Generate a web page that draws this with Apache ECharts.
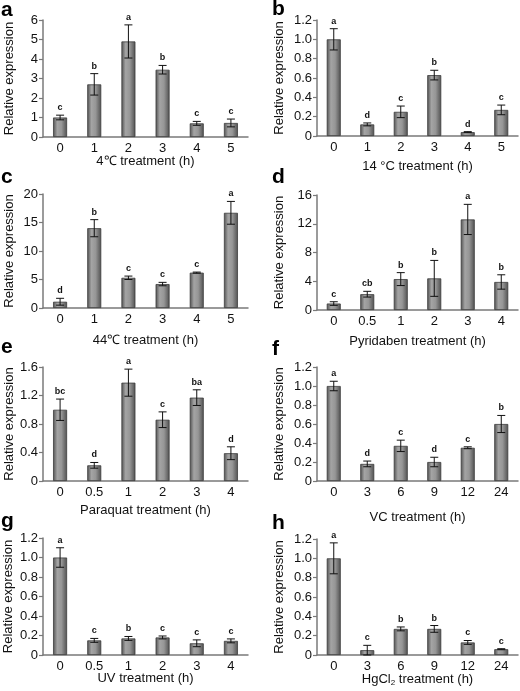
<!DOCTYPE html>
<html>
<head>
<meta charset="utf-8">
<script src="https://cdn.jsdelivr.net/npm/echarts@6/dist/echarts.min.js"></script>
<style>
html,body{margin:0;padding:0;background:#fff;}
#chart{width:520px;height:691px;}
</style>
</head>
<body>
<div id="chart"></div>
<script>
// ---- data ----
const catsA = ['0','1','2','3','4','5'];
const valsA = [1.0, 2.7, 4.9, 3.45, 0.7, 0.72];
const errsA = [0.12, 0.55, 0.85, 0.22, 0.1, 0.2];
const sigA  = ['c','b','a','b','c','c'];
const yTicksA = ['0','1','2','3','4','5','6'];

const catsB = ['0','1','2','3','4','5'];
const valsB = [1.0, 0.12, 0.25, 0.63, 0.04, 0.27];
const errsB = [0.11, 0.015, 0.06, 0.05, 0.005, 0.05];
const sigB  = ['a','d','c','b','d','c'];
const yTicksB = ['0','0.2','0.4','0.6','0.8','1.0','1.2'];

const catsC = ['0','1','2','3','4','5'];
const valsC = [1.1, 14.0, 5.3, 4.2, 6.2, 16.7];
const errsC = [0.6, 1.5, 0.3, 0.3, 0.1, 2.0];
const sigC  = ['d','b','c','c','c','a'];
const yTicksC = ['0','5','10','15','20'];

const catsD = ['0','0.5','1','2','3','4'];
const valsD = [0.9, 2.2, 4.3, 4.4, 12.6, 3.9];
const errsD = [0.25, 0.4, 0.9, 2.5, 2.1, 1.0];
const sigD  = ['c','cb','b','b','a','b'];
const yTicksD = ['0','4','8','12','16'];

const catsE = ['0','0.5','1','2','3','4'];
const valsE = [1.0, 0.22, 1.38, 0.86, 1.17, 0.39];
const errsE = [0.15, 0.04, 0.19, 0.11, 0.11, 0.09];
const sigE  = ['bc','d','a','c','ba','d'];
const yTicksE = ['0','0.4','0.8','1.2','1.6'];

const catsF = ['0','3','6','9','12','24'];
const valsF = [1.0, 0.18, 0.37, 0.2, 0.35, 0.6];
const errsF = [0.05, 0.03, 0.06, 0.05, 0.01, 0.09];
const sigF  = ['a','d','c','d','c','b'];
const yTicksF = ['0','0.2','0.4','0.6','0.8','1.0','1.2'];

const catsG = ['0','0.5','1','2','3','4'];
const valsG = [1.0, 0.15, 0.17, 0.18, 0.12, 0.145];
const errsG = [0.1, 0.02, 0.02, 0.015, 0.035, 0.02];
const sigG  = ['a','c','b','c','c','c'];
const yTicksG = ['0','0.2','0.4','0.6','0.8','1.0','1.2'];

const catsH = ['0','3','6','9','12','24'];
const valsH = [1.0, 0.05, 0.27, 0.27, 0.13, 0.06];
const errsH = [0.16, 0.05, 0.02, 0.035, 0.02, 0.005];
const sigH  = ['a','c','b','b','c','c'];
const yTicksH = ['0','0.2','0.4','0.6','0.8','1.0','1.2'];

const panelLetters = ['a','b','c','d','e','f','g','h'];
const xTitles = ['4\u2103 treatment (h)', '14 \u00B0C treatment (h)', '44\u2103 treatment (h)', 'Pyridaben treatment (h)',
                 'Paraquat treatment (h)', 'VC treatment (h)', 'UV treatment (h)', 'HgCl{sub|2} treatment (h)'];
const yTitle = 'Relative expression';

// ---- layout ----
const panelData = [
  [catsA, valsA, errsA, sigA, yTicksA],
  [catsB, valsB, errsB, sigB, yTicksB],
  [catsC, valsC, errsC, sigC, yTicksC],
  [catsD, valsD, errsD, sigD, yTicksD],
  [catsE, valsE, errsE, sigE, yTicksE],
  [catsF, valsF, errsF, sigF, yTicksF],
  [catsG, valsG, errsG, sigG, yTicksG],
  [catsH, valsH, errsH, sigH, yTicksH]
];
const layout = [
  {left:43,  width:205, top:20,  height:117, nameGap:18, yGap:27, lx:8,   ly:11},
  {left:317, width:201, top:20,  height:116, nameGap:24, yGap:31, lx:279, ly:10},
  {left:43,  width:205, top:194, height:114, nameGap:26, yGap:27, lx:8,   ly:178},
  {left:317, width:201, top:195, height:115, nameGap:25, yGap:31, lx:279, ly:178},
  {left:43,  width:205, top:367, height:114, nameGap:23, yGap:27, lx:8,   ly:348},
  {left:317, width:201, top:367, height:114, nameGap:30, yGap:31, lx:279, ly:350},
  {left:43,  width:205, top:538, height:117, nameGap:17, yGap:28, lx:8,   ly:522},
  {left:317, width:201, top:539, height:116, nameGap:17, yGap:31, lx:279, ly:524}
];

const FONT = 'Liberation Sans, Arial, sans-serif';
const axisColor = '#7a7a7a';
const barColor = {
  type:'linear', x:0, y:0, x2:1, y2:0,
  colorStops:[
    {offset:0, color:'#505050'},
    {offset:0.3, color:'#a4a4a4'},
    {offset:0.6, color:'#969696'},
    {offset:1, color:'#505050'}
  ]
};

const grid = [], xAxis = [], yAxis = [], series = [], graphic = [];
panelData.forEach((pd, k) => {
  const [cats, vals, errs, sig, ticks] = pd;
  const L = layout[k];
  const interval = parseFloat(ticks[1]);
  const max = parseFloat(ticks[ticks.length-1]);
  grid.push({left:L.left, width:L.width, top:L.top, height:L.height, containLabel:false});
  xAxis.push({
    type:'category', gridIndex:k, data:cats,
    axisLine:{lineStyle:{color:axisColor, width:1.5}},
    axisTick:{show:false},
    axisLabel:{color:'#111', fontSize:13, fontFamily:FONT, margin:5},
    name:xTitles[k], nameLocation:'middle', nameGap:L.nameGap, nameMoveOverlap:false,
    nameTextStyle:{color:'#111', fontSize:13, fontFamily:FONT,
      rich:{sub:{fontSize:8, fontFamily:FONT, color:'#111', padding:[7,0,0,0]}}}
  });
  yAxis.push({
    type:'value', gridIndex:k, min:0, max:max, interval:interval,
    axisLine:{show:true, lineStyle:{color:axisColor, width:1.5}},
    axisTick:{show:true, length:4, lineStyle:{color:axisColor, width:1.2}},
    splitLine:{show:false},
    axisLabel:{color:'#111', fontSize:13, fontFamily:FONT, margin:5,
      formatter:(v)=>ticks[Math.round(v/interval)]},
    name:yTitle, nameLocation:'middle', nameGap:L.yGap, nameRotate:90, nameMoveOverlap:false,
    nameTextStyle:{color:'#111', fontSize:13, fontFamily:FONT}
  });
  series.push({
    type:'bar', xAxisIndex:k, yAxisIndex:k, data:vals, barWidth:14,
    itemStyle:{color:barColor, borderColor:'#3c3c3c', borderWidth:0.8},
    silent:true, animation:false
  });
  series.push({
    type:'custom', xAxisIndex:k, yAxisIndex:k,
    data: vals.map((v,i)=>[i, v, errs[i]]),
    encode:{x:0, y:1},
    animation:false, silent:true, z:5,
    renderItem:(params, api)=>{
      const i = api.value(0), v = api.value(1), e = api.value(2);
      const t = api.coord([i, v+e]);
      const b = api.coord([i, Math.max(0, v-e)]);
      const hw = 4;
      return {
        type:'group',
        children:[
          {type:'line', shape:{x1:t[0], y1:t[1], x2:b[0], y2:b[1]}, style:{stroke:'#111', lineWidth:1}},
          {type:'line', shape:{x1:t[0]-hw, y1:t[1], x2:t[0]+hw, y2:t[1]}, style:{stroke:'#111', lineWidth:1}},
          {type:'line', shape:{x1:b[0]-hw, y1:b[1], x2:b[0]+hw, y2:b[1]}, style:{stroke:'#111', lineWidth:1}},
          {type:'text', x:t[0], y:t[1]-3, style:{text:sig[params.dataIndex], fill:'#111',
            font:'bold 9px ' + FONT, textAlign:'center', textVerticalAlign:'bottom'}}
        ]
      };
    }
  });
  graphic.push({
    type:'text', left:L.lx - 7, top:L.ly - 11,
    style:{text:panelLetters[k], fill:'#000', font:'bold 21px ' + FONT}
  });
});

const chart = echarts.init(document.getElementById('chart'), null, {renderer:'canvas'});
chart.setOption({
  backgroundColor:'#fff',
  animation:false,
  grid, xAxis, yAxis, series, graphic
});
</script>
</body>
</html>
